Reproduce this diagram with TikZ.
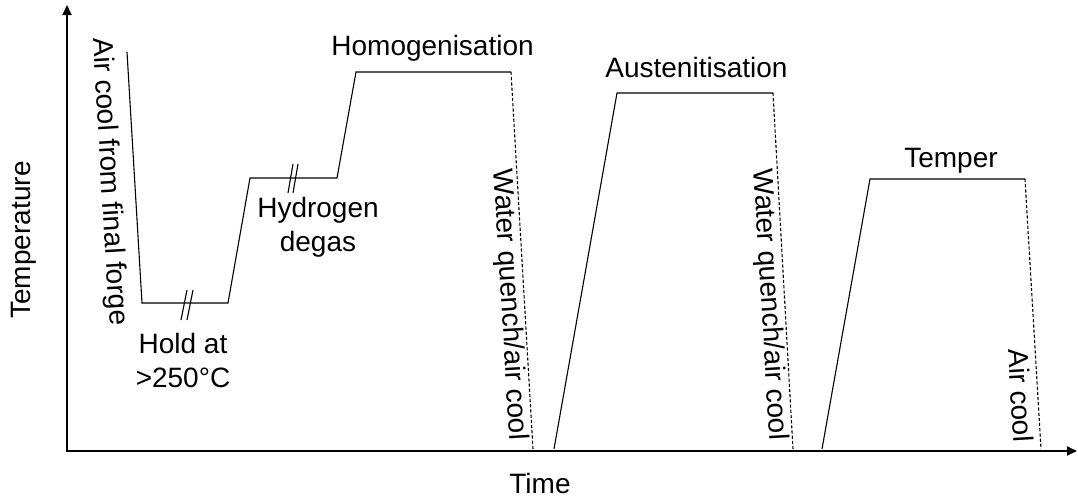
\documentclass[tikz,border=0pt]{standalone}
\usepackage{fontspec}
\setmainfont{Liberation Sans}
\usetikzlibrary{arrows.meta}
\begin{document}
\begin{tikzpicture}[x=0.5pt,y=-0.5pt,
  axis/.style={line width=1pt,{Triangle[length=5pt,width=4.5pt]}-{Triangle[length=5pt,width=4.5pt]}},
  curve/.style={line width=0.55pt,line join=miter},
  cool/.style={line width=0.55pt,dash pattern=on 1.6pt off 1pt},
  brk/.style={line width=0.55pt},
  lbl/.style={font=\fontsize{14}{17}\selectfont,inner sep=0pt}]
\useasboundingbox (0,0) rectangle (1078,499);
% axes
\coordinate (ytip) at (67,5);
\coordinate (O) at (67,451);
\coordinate (xtip) at (1077,451);
\draw[axis] (ytip) -- (O) -- (xtip);
% stage 1: forge cool, hold, degas, homogenise
\coordinate (a0) at (127,52);
\coordinate (a1) at (142,303);
\coordinate (a2) at (228,303);
\coordinate (a3) at (250,178);
\coordinate (a4) at (337,178);
\coordinate (a5) at (356,72);
\coordinate (a6) at (511,72);
\coordinate (a7) at (533,449);
\draw[curve] (a0) -- (a1) -- (a2) -- (a3) -- (a4) -- (a5) -- (a6);
\draw[cool] (a6) -- (a7);
% stage 2: austenitise
\coordinate (b0) at (554,449);
\coordinate (b1) at (617,93);
\coordinate (b2) at (773,93);
\coordinate (b3) at (793,449);
\draw[curve] (b0) -- (b1) -- (b2);
\draw[cool] (b2) -- (b3);
% stage 3: temper
\coordinate (c0) at (822,449);
\coordinate (c1) at (870,179);
\coordinate (c2) at (1025,179);
\coordinate (c3) at (1041,449);
\draw[curve] (c0) -- (c1) -- (c2);
\draw[cool] (c2) -- (c3);
% break marks
\draw[brk] (181,320) -- (187,290) (187,320) -- (193,290);
\draw[brk] (288,193) -- (293,164) (293,193) -- (298,164);
% labels
\node[lbl,anchor=base west] (hom) at (331,55) {Homogenisation};
\node[lbl,anchor=base west] (aus) at (605,77) {Austenitisation};
\node[lbl,anchor=base] (tem) at (951,167) {Temper};
\node[lbl,anchor=base,align=center] (hold) at (183,387) {Hold at\\>250°C};
\node[lbl,anchor=base,align=center] (hyd) at (318,251) {Hydrogen\\degas};
\node[lbl,anchor=base] (time) at (540,493) {Time};
\node[lbl,anchor=base] (temp) at (31,240) [rotate=90] {Temperature};
\node[lbl,rotate=-86.6,anchor=base west] (forge) at (93,38) {Air cool from final forge};
\node[lbl,rotate=-86.6,anchor=base east] (wq1) at (510,441) {Water quench/air cool};
\node[lbl,rotate=-86.6,anchor=base east] (wq2) at (770,441) {Water quench/air cool};
\node[lbl,rotate=-86.6,anchor=base east] (ac) at (1014,443) {Air cool};
\end{tikzpicture}
\end{document}
